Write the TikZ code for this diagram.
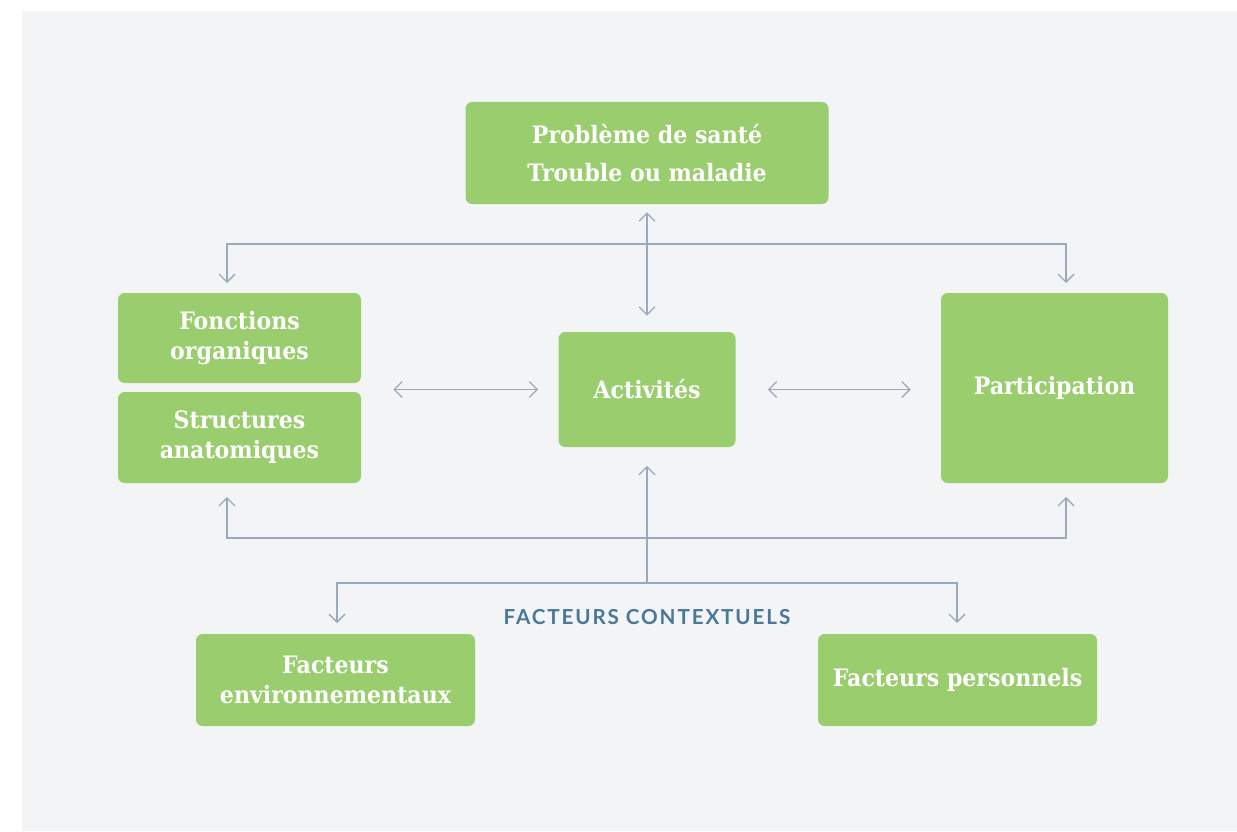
\documentclass[tikz,border=0pt]{standalone}
\usepackage{fontspec}
\usetikzlibrary{arrows.meta}
\newfontfamily\boxfont[FakeStretch=0.92]{DejaVu Serif}
\newfontfamily\tagfont[LetterSpace=9]{Lato}
\definecolor{panelgrey}{HTML}{F3F4F6}
\definecolor{leafgreen}{HTML}{99CD6E}
\definecolor{linkgrey}{HTML}{9AA9BC}
\definecolor{tagblue}{HTML}{4A7898}
\tikzset{
  barb/.tip={Straight Barb[length=6pt,width=12pt,line width=0.95pt]},
  box/.style={fill=leafgreen, rounded corners=5pt, inner sep=0pt, align=center,
    text=white, font=\boxfont\bfseries\fontsize{18pt}{22.5pt}\selectfont},
  link/.style={draw=linkgrey, line width=0.95pt, -barb},
  both/.style={draw=linkgrey, line width=0.95pt, barb-barb}
}
\begin{document}
\begin{tikzpicture}[x=0.75pt, y=-0.75pt]
% page and grey panel
\useasboundingbox (0,0) rectangle (1237,831);
\fill[white] (0,0) rectangle (1237,831);
\fill[panelgrey] (22,11) rectangle (1237,831);

% boxes
\node[box, minimum width=272.25pt, minimum height=76.5pt] (prob) at (647,153)
  {Problème de santé\\[6pt]Trouble ou maladie};
\node[box, minimum width=182.25pt, minimum height=67.5pt] (fonc) at (239.5,338)
  {Fonctions\\organiques};
\node[box, minimum width=182.25pt, minimum height=68.25pt] (struct) at (239.5,437.5)
  {Structures\\anatomiques};
\node[box, minimum width=132.75pt, minimum height=86.25pt] (act) at (647,389.5)
  {Activités};
\node[box, minimum width=170.25pt, minimum height=142.5pt] (part) at (1054.5,388)
  {Participation};
\node[box, minimum width=209.25pt, minimum height=69pt] (env) at (335.5,680)
  {Facteurs\\environnementaux};
\node[box, minimum width=209.25pt, minimum height=69pt] (pers) at (957.5,680)
  {Facteurs personnels};

\node[font=\tagfont\bfseries\fontsize{15.5pt}{17pt}\selectfont, text=tagblue] (ctx) at (647,617)
  {FACTEURS CONTEXTUELS};

% junction points of the connectors
\coordinate (jtop) at (647,244);
\coordinate (tl) at (227,283);
\coordinate (tr) at (1066,283);
\coordinate (jbot) at (647,538);
\coordinate (bl) at (227,497);
\coordinate (br) at (1066,497);
\coordinate (jctx) at (647,583);
\coordinate (cl) at (337,623);
\coordinate (cr) at (957,623);

% connectors
\draw[both, shorten <=6pt, shorten >=12pt] (prob.south) -- (act.north);
\draw[both] (tl) |- (jtop) -| (tr);
\draw[both] (bl) |- (jbot) -| (br);
\draw[both, shorten <=24pt, shorten >=15pt] (fonc.east |- act.center) -- (act.west);
\draw[both, shorten <=24pt, shorten >=22.5pt] (act.east) -- (part.west |- act.center);
\draw[link, shorten >=14pt] (jctx) -- (act.south);
\draw[both] (cl) |- (jctx) -| (cr);
\end{tikzpicture}
\end{document}
